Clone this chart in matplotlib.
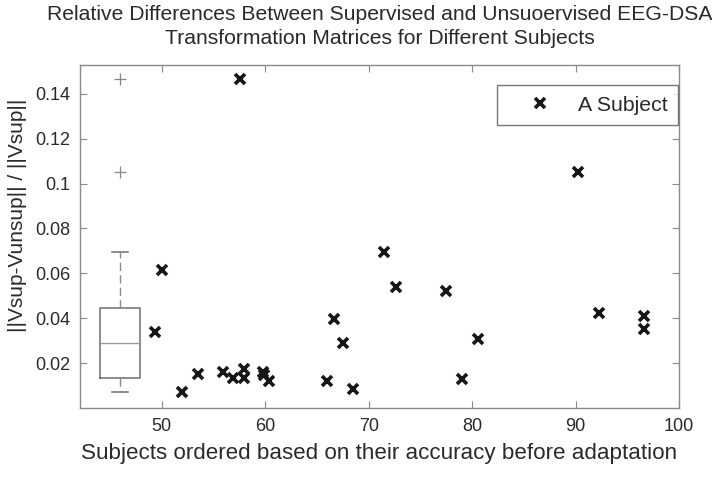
import numpy as np
import matplotlib.pyplot as plt

# accuracy before adaptation (x) and relative difference (y), one per subject
accuracy = [49.35, 50.0, 51.99, 53.48, 55.9, 56.86, 57.57, 57.98, 57.98,
            59.82, 59.92, 60.37, 65.95, 66.68, 67.55, 68.52, 71.46, 72.62,
            77.48, 78.99, 80.54, 90.21, 92.30, 96.62, 96.62]
rel_diff = [0.0338, 0.0613, 0.0070, 0.0150, 0.0162, 0.0135, 0.1464, 0.0172, 0.0135,
            0.0162, 0.0147, 0.0122, 0.0122, 0.0398, 0.0290, 0.0083, 0.0694, 0.0541,
            0.0522, 0.0129, 0.0309, 0.1051, 0.0422, 0.0412, 0.0352]

title_1 = "Relative Differences Between Supervised and Unsuoervised EEG-DSA"
title_2 = "Transformation Matrices for Different Subjects"
x_label = "Subjects ordered based on their accuracy before adaptation"
y_label = "||Vsup-Vunsup|| / ||Vsup||"
x_ticks = [50, 60, 70, 80, 90, 100]
y_ticks = [0.02, 0.04, 0.06, 0.08, 0.1, 0.12, 0.14]
y_tick_labels = ["0.02", "0.04", "0.06", "0.08", "0.1", "0.12", "0.14"]

plt.rcParams["font.family"] = ["Liberation Sans", "DejaVu Sans"]
txt = "#2a2a2a"
gray = "#8a8a8a"

fig = plt.figure(figsize=(7.12, 4.79), dpi=100)
ax = fig.add_axes([80 / 712, 1 - 408 / 479, 599 / 712, 343 / 479])

# boxplot of all the subjects (matlab style quartiles)
arr = np.array(rel_diff)
q1, med, q3 = np.percentile(arr, [25, 50, 75], method="hazen")
iqr = q3 - q1
ok = (arr >= q1 - 1.5 * iqr) & (arr <= q3 + 1.5 * iqr)
stats = [dict(med=med, q1=q1, q3=q3, whislo=arr[ok].min(), whishi=arr[ok].max(),
              fliers=arr[~ok])]
ax.bxp(stats, positions=[45.97], widths=3.87, capwidths=1.55, manage_ticks=False,
       boxprops=dict(color="#6e6e6e", lw=1.1),
       medianprops=dict(color="#9a9a9a", lw=1.0),
       whiskerprops=dict(color="#8a8a8a", lw=1.0, ls=(0, (6, 3))),
       capprops=dict(color="#6e6e6e", lw=1.1),
       flierprops=dict(marker="+", markeredgecolor="#888888", markersize=9, mew=0.9))

ax.plot(accuracy, rel_diff, ls="none", marker="x", color="#161616",
        markersize=7.5, mew=2.6, label="A Subject")

ax.set_xlim(42.1, 100)
ax.set_ylim(0, 0.1528)
ax.set_xticks(x_ticks)
ax.set_yticks(y_ticks)
ax.set_yticklabels(y_tick_labels)
ax.tick_params(direction="in", length=5, width=0.8, color=gray, labelsize=13,
               labelcolor=txt, top=True, right=True, pad=7)
for s in ax.spines.values():
    s.set_color(gray)
    s.set_linewidth(1.0)

ax.set_xlabel(x_label, fontsize=16.1, color=txt, labelpad=6)
ax.set_ylabel(y_label, fontsize=15, color=txt)
ax.yaxis.set_label_coords(-0.088, 0.562)

leg = ax.legend(loc="upper right", bbox_to_anchor=(0.999, 0.942), borderaxespad=0,
                fancybox=False, fontsize=15.3, handlelength=3.0, handletextpad=0.3,
                borderpad=0.5, labelcolor=txt)
leg.get_frame().set_edgecolor("#555555")
leg.get_frame().set_linewidth(1.0)

fig.text(379.5 / 712, 1 - 20 / 479, title_1, ha="center", va="baseline",
         fontsize=15.2, color=txt)
fig.text(379.5 / 712, 1 - 44 / 479, title_2, ha="center", va="baseline",
         fontsize=15.2, color=txt)

fig.savefig("out.png", dpi=100)
